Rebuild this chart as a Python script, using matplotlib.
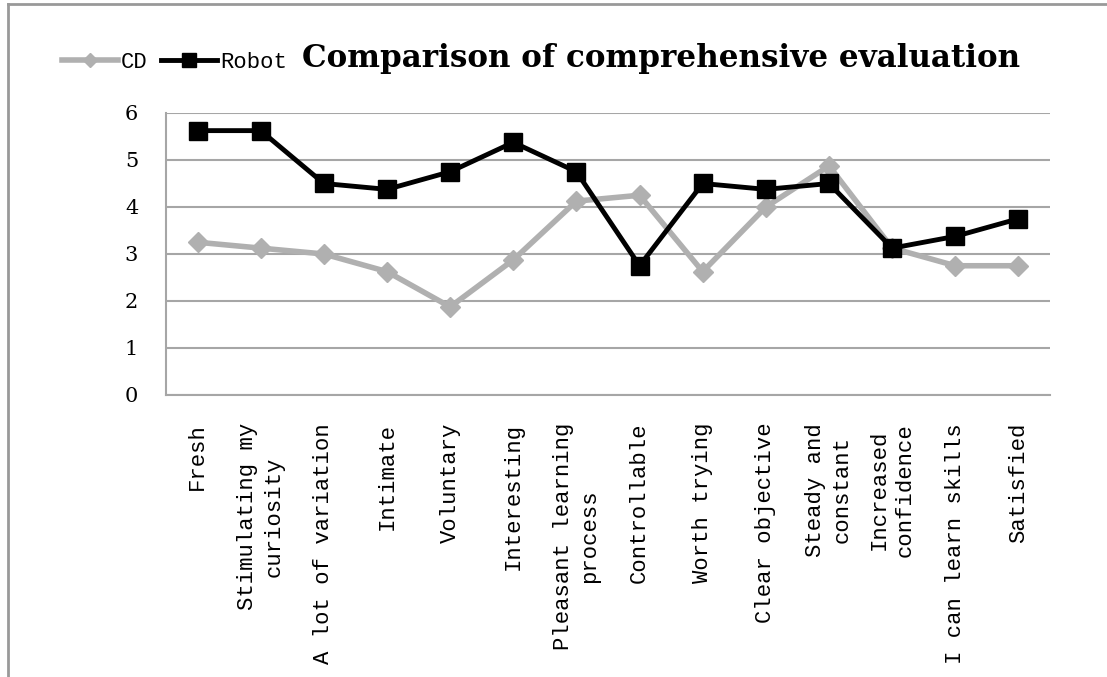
import matplotlib
matplotlib.use("Agg")
import matplotlib.pyplot as plt
from matplotlib.lines import Line2D

categories = [
    "Fresh", "Stimulating my\ncuriosity", "A lot of variation", "Intimate",
    "Voluntary", "Interesting", "Pleasant learning\nprocess", "Controllable",
    "Worth trying", "Clear objective", "Steady and\nconstant",
    "Increased\nconfidence", "I can learn skills", "Satisfied",
]
cd_scores = [3.25, 3.125, 3.0, 2.625, 1.875, 2.875, 4.125, 4.25,
             2.625, 4.0, 4.875, 3.125, 2.75, 2.75]
robot_scores = [5.625, 5.625, 4.5, 4.375, 4.75, 5.375, 4.75, 2.75,
                4.5, 4.375, 4.5, 3.125, 3.375, 3.75]
y_ticks = [0, 1, 2, 3, 4, 5, 6]

W, H = 1107, 677
fig = plt.figure(figsize=(W / 100, H / 100), dpi=100)
ax = fig.add_axes([166 / W, 1 - 395 / H, (1050 - 166) / W, (395 - 113) / H])

x = list(range(len(categories)))
ax.plot(x, cd_scores, color="#b0b0b0", lw=4, marker="D", ms=10,
        markeredgecolor="#b0b0b0", zorder=3)
ax.plot(x, robot_scores, color="black", lw=3.5, marker="s", ms=13,
        zorder=4)

ax.set_xlim(-0.5, len(categories) - 0.5)
ax.set_ylim(0, 6)
ax.set_yticks(y_ticks)
ax.set_yticklabels([str(v) for v in y_ticks], family="DejaVu Serif",
                   fontsize=15)
ax.yaxis.grid(True, color="#a6a6a6", lw=1.5)
ax.set_axisbelow(True)
ax.tick_params(axis="both", length=0)
ax.tick_params(axis="y", pad=20)
ax.tick_params(axis="x", pad=20)
ax.set_xticks(x)
ax.set_xticklabels(categories, rotation=90, ha="center", va="top",
                   multialignment="center", family="Liberation Mono",
                   fontsize=16, linespacing=1.35)
for side in ("top", "right"):
    ax.spines[side].set_visible(False)
for side in ("left", "bottom"):
    ax.spines[side].set_color("#a6a6a6")
    ax.spines[side].set_linewidth(1.5)

# outer frame of the chart area
fig.add_artist(Line2D([8 / W, 8 / W], [0, 1 - 4 / H], color="#999999",
                      lw=2, transform=fig.transFigure))
fig.add_artist(Line2D([8 / W, 1], [1 - 4 / H, 1 - 4 / H], color="#999999",
                      lw=2, transform=fig.transFigure))

fig.text(302 / W, 1 - 58 / H, "Comparison of comprehensive evaluation",
         family="DejaVu Serif", weight="bold", fontsize=22.3,
         ha="left", va="center")

handles = [
    Line2D([], [], color="#b0b0b0", lw=4, marker="D", ms=7,
           markeredgecolor="#b0b0b0"),
    Line2D([], [], color="black", lw=3.5, marker="s", ms=10),
]
fig.legend(handles, ["CD", "Robot"], loc="center left",
           bbox_to_anchor=(62 / W, 1 - 62 / H), ncol=2, frameon=False,
           prop={"family": "Liberation Mono", "size": 16},
           handlelength=2.5, handletextpad=0.15, columnspacing=0.6,
           borderaxespad=0, borderpad=0)

fig.savefig("out.png", dpi=100)
